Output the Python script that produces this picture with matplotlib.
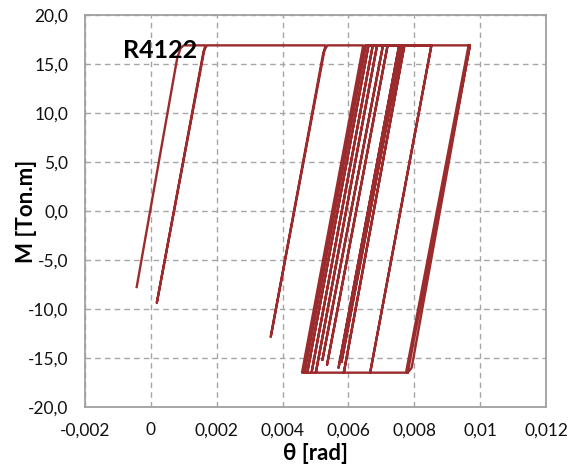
import matplotlib
matplotlib.use('Agg')
import matplotlib.pyplot as plt

plt.rcParams['font.family'] = ['Lato', 'DejaVu Sans']

# M-theta hysteresis path (theta in rad, M in Ton.m)
theta_pts = [-0.00043, 0.00080, 0.00090, 0.00100, 0.00165,
             0.00018, 0.00160, 0.00170,
             0.00530, 0.00364, 0.00524, 0.00536,
             0.00645, 0.00459, 0.00780, 0.00792, 0.00969,
             0.00965, 0.00776, 0.00780, 0.00969,
             0.00652, 0.00466, 0.00652,
             0.00661, 0.00475, 0.00661,
             0.00674, 0.00488, 0.00674,
             0.00687, 0.00501, 0.00687,
             0.00705, 0.00521, 0.00705,
             0.00719, 0.00535, 0.00719,
             0.00754, 0.00570, 0.00754,
             0.00762, 0.00579, 0.00762,
             0.00770, 0.00586, 0.00770,
             0.00852, 0.00666, 0.00852]
m_pts = [-7.76, 15.6, 16.6, 16.9, 16.9,
         -9.39, 16.3, 16.9,
         16.9, -12.86, 16.2, 16.9,
         16.9, -16.5, -16.5, -16.0, 16.9,
         16.9, -16.3, -16.5, 16.9,
         16.9, -16.5, 16.9,
         16.9, -16.5, 16.9,
         16.9, -16.5, 16.9,
         16.9, -16.5, 16.9,
         16.9, -15.2, 16.9,
         16.9, -15.7, 16.9,
         16.9, -16.0, 16.9,
         16.9, -15.4, 16.9,
         16.9, -16.5, 16.9,
         16.9, -16.5, 16.9]

xticks = [-0.002, 0, 0.002, 0.004, 0.006, 0.008, 0.01, 0.012]
xtick_labels = ['-0,002', '0', '0,002', '0,004', '0,006', '0,008', '0,01', '0,012']
yticks = [-20, -15, -10, -5, 0, 5, 10, 15, 20]
ytick_labels = ['-20,0', '-15,0', '-10,0', '-5,0', '0,0', '5,0', '10,0', '15,0', '20,0']

fig = plt.figure(figsize=(5.79, 4.74), dpi=100)
ax = fig.add_axes([0.1468, 0.1414, 0.7962, 0.827])

ax.plot(theta_pts, m_pts, color='#9b2b2c', lw=1.7, solid_joinstyle='round', zorder=3)

ax.set_xlim(-0.002, 0.012)
ax.set_ylim(-20, 20)
ax.set_xticks(xticks)
ax.set_xticklabels(xtick_labels)
ax.set_yticks(yticks)
ax.set_yticklabels(ytick_labels)
ax.tick_params(length=0, labelsize=12.5, colors='#111111')
ax.tick_params(axis='x', pad=11)
ax.tick_params(axis='y', pad=12)

ax.grid(True, color='#a6a6a6', linestyle=(0, (4, 3)), lw=1.0)
for s in ax.spines.values():
    s.set_color('#a0a0a0')
    s.set_linewidth(1.3)

ax.set_xlabel('θ [rad]', fontsize=16, fontweight='bold')
ax.set_ylabel('M [Ton.m]', fontsize=16, fontweight='bold')
ax.xaxis.set_label_coords(0.5, -0.093)
ax.yaxis.set_label_coords(-0.105, 0.5)

ax.text(-0.00085, 15.6, 'R4122', fontsize=18, fontweight='bold', ha='left', va='baseline', zorder=4)

fig.savefig('out.png', dpi=100)
